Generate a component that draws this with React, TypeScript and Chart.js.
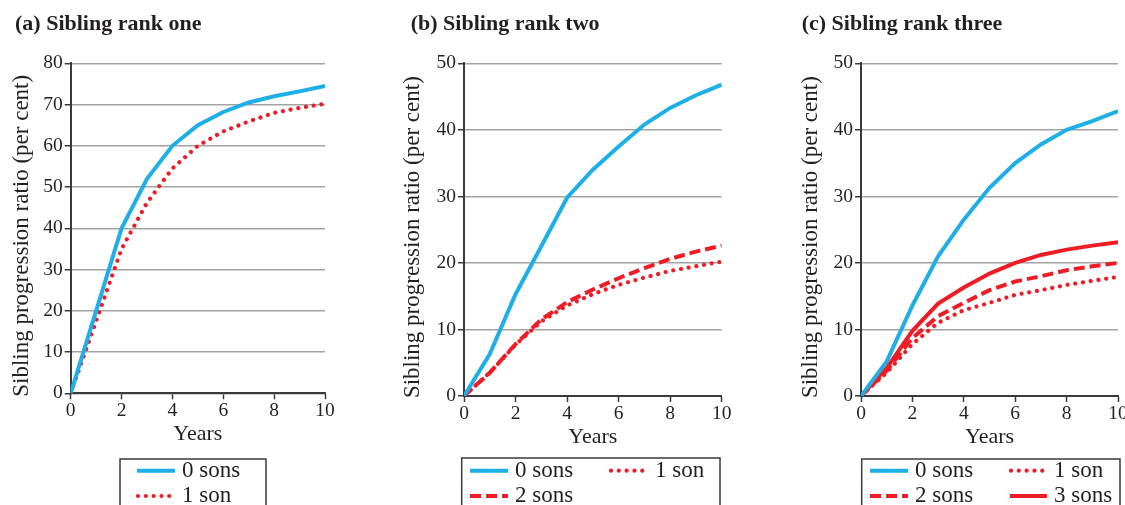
import React, { useEffect, useRef } from "react";
import { Chart, registerables } from "chart.js";

Chart.register(...registerables);

// ---------- data ----------
const YEARS = [0, 1, 2, 3, 4, 5, 6, 7, 8, 9, 10];
const X_TICKS = [0, 2, 4, 6, 8, 10];
const SERIES_LABELS = ["0 sons", "1 son", "2 sons", "3 sons"];
const PANEL_TITLES = ["(a) Sibling rank one", "(b) Sibling rank two", "(c) Sibling rank three"];
const X_TITLE = "Years";
const Y_TITLE = "Sibling progression ratio (per cent)";
const Y_MAX = [80, 50, 50];

const RANK1_0SONS = [0, 20, 40, 52, 60, 65, 68.2, 70.5, 72, 73.2, 74.5];
const RANK1_1SON = [0, 17.5, 35, 46.2, 54.5, 60, 63.5, 65.9, 68, 69.2, 70.2];

const RANK2_0SONS = [0, 6.3, 15.3, 22.5, 29.8, 34, 37.5, 40.8, 43.3, 45.2, 46.8];
const RANK2_1SON = [0, 3.5, 7.7, 11.2, 13.6, 15.3, 16.7, 17.8, 18.8, 19.5, 20.2];
const RANK2_2SONS = [0, 3.5, 7.8, 11.5, 14.1, 16, 17.7, 19.2, 20.6, 21.7, 22.6];

const RANK3_0SONS = [0, 5.2, 13.6, 21, 26.5, 31.3, 35, 37.8, 40, 41.3, 42.8];
const RANK3_1SON = [0, 3.5, 7.8, 11, 12.9, 14, 15.2, 15.9, 16.7, 17.3, 17.9];
const RANK3_2SONS = [0, 3.8, 8.7, 12, 14, 15.9, 17.2, 18, 18.9, 19.5, 20];
const RANK3_3SONS = [0, 4.2, 9.8, 13.9, 16.3, 18.4, 20, 21.2, 22, 22.6, 23.1];

// ---------- styles ----------
const FONT = "'Liberation Serif', 'Times New Roman', serif";
const TEXT = "#231f20";
const AXIS = "#3a3a3a";
const GRID = "#a3a3a3";
const BLUE = "#1eaee8";
const RED = "#ee1c24";

const STYLE_SOLID_BLUE = { borderColor: BLUE, borderWidth: 4, borderDash: [], borderCapStyle: "butt" };
const STYLE_DOTTED = { borderColor: RED, borderWidth: 4.2, borderDash: [0.01, 7.8], borderCapStyle: "round" };
const STYLE_DASHED = { borderColor: RED, borderWidth: 4, borderDash: [11, 5], borderCapStyle: "butt" };
const STYLE_SOLID_RED = { borderColor: RED, borderWidth: 4, borderDash: [], borderCapStyle: "butt" };

const toPoints = (vals: number[]) => YEARS.map((x, i) => ({ x, y: vals[i] }));

const panelDecor = {
  id: "panelDecor",
  afterDraw(chart: any, _args: any, opts: any) {
    const ctx = chart.ctx as CanvasRenderingContext2D;
    const area = chart.chartArea;
    ctx.save();
    ctx.fillStyle = TEXT;
    ctx.textAlign = "left";
    ctx.textBaseline = "alphabetic";
    ctx.font = `bold 22px ${FONT}`;
    ctx.fillText(opts.title, opts.titleX, opts.titleY);

    // y-axis title
    ctx.save();
    ctx.translate(opts.yTitleX, (area.top + area.bottom) / 2 + opts.yTitleShift);
    ctx.rotate(-Math.PI / 2);
    ctx.textAlign = "center";
    ctx.textBaseline = "middle";
    ctx.font = `23px ${FONT}`;
    ctx.fillText(opts.yTitle, 0, 0);
    ctx.restore();

    const b = opts.box;
    ctx.lineWidth = 1.5;
    ctx.strokeStyle = AXIS;
    ctx.strokeRect(b.x, b.y, b.w, b.h);

    opts.items.forEach((it: any) => {
      const ds = chart.data.datasets[it.index];
      ctx.save();
      ctx.strokeStyle = ds.borderColor;
      ctx.lineWidth = ds.borderWidth;
      ctx.setLineDash(ds.borderDash || []);
      ctx.lineCap = ds.borderCapStyle || "butt";
      ctx.beginPath();
      ctx.moveTo(it.x1, it.y);
      ctx.lineTo(it.x2, it.y);
      ctx.stroke();
      ctx.restore();
      ctx.fillStyle = TEXT;
      ctx.font = `23px ${FONT}`;
      ctx.textBaseline = "middle";
      ctx.textAlign = "left";
      ctx.fillText(ds.label, it.tx, it.y);
    });
    ctx.restore();
  },
};

type PanelCfg = {
  left: number;
  width: number;
  axisW: number;
  top: number;
  bottom: number; // chart area bottom
  right: number; // chart area right
  yTitleX: number;
  yMax: number;
  title: string;
  titleX: number;
  datasets: any[];
  legend: any;
};

const H = 505;
const X_AXIS_H = 60;

function buildConfig(p: PanelCfg): any {
  return {
    type: "line",
    data: { datasets: p.datasets },
    plugins: [panelDecor],
    options: {
      responsive: false,
      animation: false,
      events: [],
      layout: {
        padding: { left: 0, top: p.top, right: p.width - p.right, bottom: H - p.bottom - X_AXIS_H },
      },
      elements: { point: { radius: 0 }, line: { tension: 0, fill: false } },
      plugins: {
        legend: { display: false },
        tooltip: { enabled: false },
        title: { display: false },
        panelDecor: {
          title: p.title,
          titleX: p.titleX,
          titleY: 30,
          yTitle: Y_TITLE,
          yTitleX: p.yTitleX,
          yTitleShift: 7.5,
          box: p.legend.box,
          items: p.legend.items,
        },
      },
      scales: {
        x: {
          type: "linear",
          min: 0,
          max: 10,
          afterBuildTicks: (s: any) => {
            s.ticks = X_TICKS.map((v) => ({ value: v }));
          },
          afterFit: (s: any) => {
            s.height = X_AXIS_H;
          },
          grid: { drawOnChartArea: false, drawTicks: true, tickLength: 6, tickColor: AXIS, tickWidth: 1.5 },
          border: { color: AXIS, width: 2 },
          ticks: { font: { family: FONT, size: 19.5 }, color: TEXT, padding: 0, maxRotation: 0, autoSkip: false },
          title: {
            display: true,
            text: X_TITLE,
            font: { family: FONT, size: 22 },
            color: TEXT,
            padding: { top: 0, bottom: 5.6 },
          },
        },
        y: {
          type: "linear",
          min: 0,
          max: p.yMax,
          afterFit: (s: any) => {
            s.width = p.axisW;
          },
          grid: { color: GRID, lineWidth: 1.5, drawTicks: true, tickLength: 6, tickColor: AXIS, tickWidth: 1.5 },
          border: { color: AXIS, width: 2 },
          ticks: { stepSize: 10, font: { family: FONT, size: 19.5 }, color: TEXT, padding: 2 },
          title: { display: false },
        },
      },
    },
  };
}

const mk = (label: string, vals: number[], style: any) => ({ label, data: toPoints(vals), ...style, pointRadius: 0 });

const PANELS: PanelCfg[] = [
  {
    left: 0,
    width: 390,
    axisW: 70.7,
    top: 63.3,
    bottom: 393.3,
    right: 325,
    yTitleX: 22,
    yMax: Y_MAX[0],
    title: PANEL_TITLES[0],
    titleX: 15,
    datasets: [mk(SERIES_LABELS[0], RANK1_0SONS, STYLE_SOLID_BLUE), mk(SERIES_LABELS[1], RANK1_1SON, STYLE_DOTTED)],
    legend: {
      box: { x: 120, y: 459, w: 146, h: 70 },
      items: [
        { index: 0, x1: 137, x2: 175, tx: 182, y: 470.7 },
        { index: 1, x1: 138, x2: 175, tx: 182, y: 496 },
      ],
    },
  },
  {
    left: 390,
    width: 390,
    axisW: 74,
    top: 63.3,
    bottom: 396,
    right: 331.7,
    yTitleX: 23,
    yMax: Y_MAX[1],
    title: PANEL_TITLES[1],
    titleX: 20.7,
    datasets: [
      mk(SERIES_LABELS[0], RANK2_0SONS, STYLE_SOLID_BLUE),
      mk(SERIES_LABELS[1], RANK2_1SON, STYLE_DOTTED),
      mk(SERIES_LABELS[2], RANK2_2SONS, STYLE_DASHED),
    ],
    legend: {
      box: { x: 71.7, y: 458, w: 258.3, h: 70 },
      items: [
        { index: 0, x1: 80, x2: 118, tx: 125, y: 470.7 },
        { index: 1, x1: 221, x2: 257, tx: 265, y: 470.7 },
        { index: 2, x1: 80, x2: 118, tx: 125, y: 496 },
      ],
    },
  },
  {
    left: 780,
    width: 400,
    axisW: 81,
    top: 63.3,
    bottom: 396,
    right: 338,
    yTitleX: 31,
    yMax: Y_MAX[2],
    title: PANEL_TITLES[2],
    titleX: 21.7,
    datasets: [
      mk(SERIES_LABELS[0], RANK3_0SONS, STYLE_SOLID_BLUE),
      mk(SERIES_LABELS[1], RANK3_1SON, STYLE_DOTTED),
      mk(SERIES_LABELS[2], RANK3_2SONS, STYLE_DASHED),
      mk(SERIES_LABELS[3], RANK3_3SONS, STYLE_SOLID_RED),
    ],
    legend: {
      box: { x: 81.7, y: 459, w: 258.3, h: 70 },
      items: [
        { index: 0, x1: 90, x2: 128, tx: 135, y: 470.7 },
        { index: 1, x1: 231, x2: 267, tx: 274, y: 470.7 },
        { index: 2, x1: 90, x2: 128, tx: 135, y: 496 },
        { index: 3, x1: 230, x2: 267, tx: 274, y: 496 },
      ],
    },
  },
];

function Panel({ cfg }: { cfg: PanelCfg }) {
  const ref = useRef<HTMLCanvasElement | null>(null);
  useEffect(() => {
    if (!ref.current) return;
    const chart = new Chart(ref.current, buildConfig(cfg));
    return () => chart.destroy();
  }, [cfg]);
  return (
    <div style={{ position: "absolute", left: cfg.left, top: 0, width: cfg.width, height: H }}>
      <canvas ref={ref} width={cfg.width} height={H} style={{ display: "block", width: cfg.width, height: H }} />
    </div>
  );
}

export default function App() {
  return (
    <div
      style={{
        position: "absolute",
        left: 0,
        top: 0,
        width: 1125,
        height: H,
        overflow: "hidden",
        background: "#ffffff",
      }}
    >
      {PANELS.map((p, i) => (
        <Panel key={i} cfg={p} />
      ))}
    </div>
  );
}
